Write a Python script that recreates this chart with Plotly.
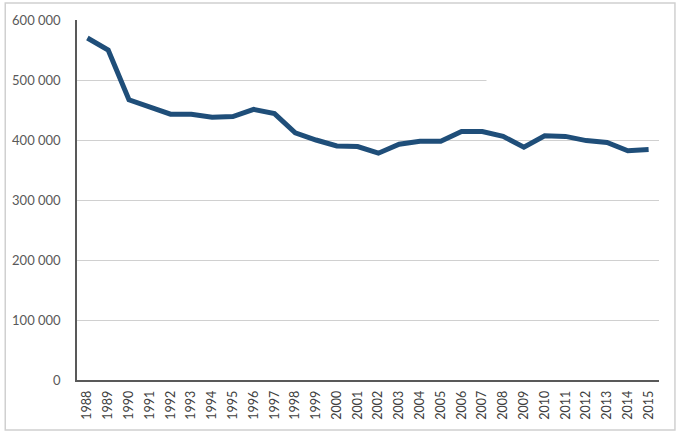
import plotly.graph_objects as go

years = [str(y) for y in range(1988, 2016)]
values = [570000, 550000, 467000, 456000, 443000, 443000, 438000, 439000, 451000, 444000,
          412000, 400000, 390000, 389000, 378000, 393000, 398000, 398000, 414000, 414000,
          406000, 388000, 407000, 406000, 399000, 396000, 382000, 384000]
y_ticks = [0, 100000, 200000, 300000, 400000, 500000, 600000]

fig = go.Figure()
fig.add_trace(go.Scatter(x=years, y=values, mode="lines",
                         line=dict(color="#1F4E79", width=5), showlegend=False))

fig.update_layout(
    width=680, height=433,
    margin=dict(l=75, r=21, t=20, b=53),
    paper_bgcolor="white", plot_bgcolor="white",
    separators=". ",
    font=dict(family="Lato, Noto Sans, sans-serif", color="#595959", size=13),
)
fig.update_xaxes(type="category", range=[-0.5, 27.5], showgrid=False,
                 showline=True, linecolor="#595959", linewidth=1.5,
                 tickangle=-90, tickfont=dict(size=12.5, color="#404040"),
                 ticks="", ticklabelstandoff=4)
fig.update_yaxes(range=[0, 600000], tickvals=y_ticks, tickformat=",d",
                 showgrid=True, gridcolor="#D0D0D0", gridwidth=1,
                 showline=True, linecolor="#595959", linewidth=1.5,
                 zeroline=False, ticks="", ticklabelstandoff=12,
                 tickfont=dict(size=13, color="#595959"))

# partial gridline artifact at 500 000 (cover the right part)
fig.add_shape(type="line", xref="x", yref="y", x0=19.2, x1=27.5, y0=500000, y1=500000,
              line=dict(color="white", width=3), layer="between")
# outer frame
fig.add_shape(type="rect", xref="paper", yref="paper",
              x0=-72/584, x1=1 + 16/584, y0=-50/360, y1=1 + 17/360,
              line=dict(color="#D0D0D0", width=1.5))

fig.write_html("out.html")
